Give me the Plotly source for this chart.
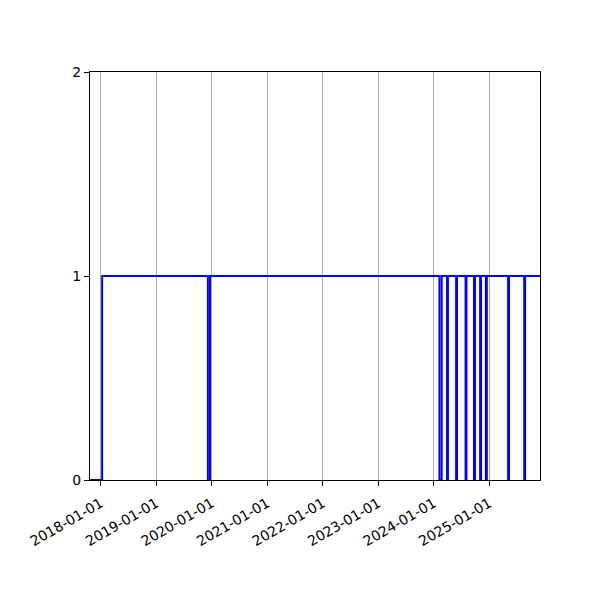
import plotly.graph_objects as go

# Step series: state (0/1) changes at these dates (step-after)
dates = [
    "2017-10-22", "2018-01-10",
    "2019-12-07", "2019-12-21",
    "2024-02-08", "2024-02-23",
    "2024-03-29", "2024-04-04",
    "2024-05-28", "2024-06-03",
    "2024-07-29", "2024-08-04",
    "2024-09-23", "2024-09-29",
    "2024-11-02", "2024-11-08",
    "2024-12-10", "2024-12-16",
    "2025-05-05", "2025-05-11",
    "2025-08-19", "2025-08-25",
    "2025-12-01",
]
values = [
    0, 1,
    0, 1,
    0, 1,
    0, 1,
    0, 1,
    0, 1,
    0, 1,
    0, 1,
    0, 1,
    0, 1,
    0, 1,
    1,
]
x_ticks = ["2018-01-01", "2019-01-01", "2020-01-01", "2021-01-01",
           "2022-01-01", "2023-01-01", "2024-01-01", "2025-01-01"]
y_ticks = [0, 1, 2]

fig = go.Figure()
fig.add_trace(go.Scatter(
    x=dates, y=values, mode="lines",
    line=dict(color="#0000ff", width=2, shape="hv"),
    showlegend=False,
))

fig.update_layout(
    width=600, height=600,
    margin=dict(l=82, r=68, t=64, b=128),
    paper_bgcolor="white", plot_bgcolor="white",
    font=dict(family="DejaVu Sans", size=14, color="black"),
)
fig.update_xaxes(
    range=[dates[0], dates[-1]],
    tickvals=x_ticks, ticktext=x_ticks,
    tickangle=-30,
    ticklabelstandoff=4,
    showgrid=True, gridcolor="#b0b0b0", gridwidth=1,
    showline=True, linecolor="black", linewidth=1, mirror=True,
    ticks="outside", ticklen=5, tickcolor="black",
    zeroline=False,
)
fig.update_yaxes(
    range=[0, 2],
    tickvals=y_ticks,
    showgrid=False,
    showline=True, linecolor="black", linewidth=1, mirror=True,
    ticks="outside", ticklen=5, tickcolor="black",
    zeroline=False,
)

fig.write_html("out.html")
